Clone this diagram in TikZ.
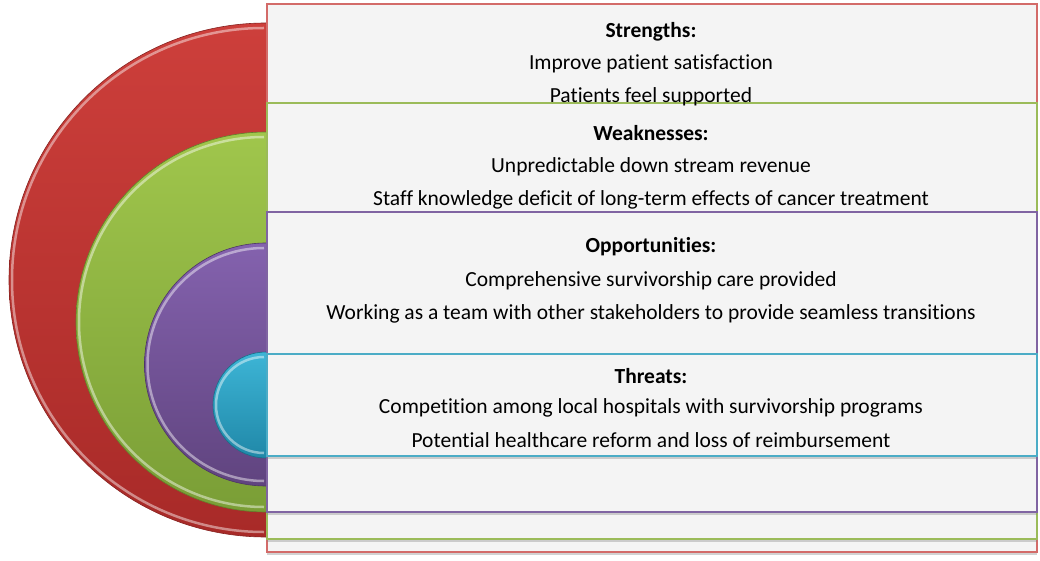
\documentclass[tikz,border=0pt]{standalone}
\usepackage{fontspec}
\setmainfont{Carlito}[Ligatures=NoCommon]
\usetikzlibrary{shadows}
\definecolor{redb}{HTML}{D36B69}
\definecolor{greenb}{HTML}{9BBB59}
\definecolor{purpleb}{HTML}{8064A2}
\definecolor{cyanb}{HTML}{4BACC6}
\definecolor{boxfill}{HTML}{F4F4F4}
\definecolor{redt}{HTML}{CD3F3B}\definecolor{redd}{HTML}{A82A28}
\definecolor{greent}{HTML}{A0C64C}\definecolor{greend}{HTML}{7A9E36}
\definecolor{purplet}{HTML}{8462AE}\definecolor{purpled}{HTML}{60447F}
\definecolor{cyant}{HTML}{3DB5D6}\definecolor{cyand}{HTML}{2088A8}
\tikzset{
  box/.style={rectangle, fill=boxfill, line width=2pt, anchor=south west, inner sep=0pt,
    minimum width=770pt, drop shadow={shadow xshift=0pt, shadow yshift=-3pt, opacity=0.35}},
  txt/.style={font=\fontsize{21.5}{24}\selectfont, inner sep=0pt, anchor=center},
  ttl/.style={txt, font=\fontsize{21.5}{24}\selectfont\bfseries},
  rim/.style={white, opacity=0.45, line width=2.5pt},
}
\newcommand{\halfdisc}[5]{% cx cy r top bottom
  \shade[top color=#4, bottom color=#5] (#1,#2+#3) arc[start angle=90, end angle=270, radius=#3] -- cycle;
  \draw[rim] (#1-2,#2+#3-5) arc[start angle=90, end angle=270, radius=#3-5];
  \draw[#5!80!black, line width=0.6pt] (#1,#2+#3) arc[start angle=90, end angle=270, radius=#3];
}
\begin{document}
\begin{tikzpicture}[x=1pt,y=1pt]
\useasboundingbox[fill=white] (0,0) rectangle (1040,560);
% red layer
\halfdisc{266}{280}{257}{redt}{redd}
\node[box, draw=redb, minimum height=548pt] (sbox) at (266,7) {};
% green layer
\halfdisc{266}{238}{190}{greent}{greend}
\node[box, draw=greenb, minimum height=436pt] (wbox) at (266,20) {};
% purple layer
\halfdisc{266}{195.5}{121.5}{purplet}{purpled}
\node[box, draw=purpleb, minimum height=300pt] (obox) at (266,47) {};
% cyan layer
\halfdisc{266}{155}{53}{cyant}{cyand}
\node[box, draw=cyanb, minimum height=102pt] (tbox) at (266,103) {};
% texts
\node[ttl] (s0) at (651,528) {Strengths:};
\node[txt] (s1) at (651,496) {Improve patient satisfaction};
\node[txt] (s2) at (651,463) {Patients feel supported};
\node[ttl] (w0) at (651,427) {Weaknesses:};
\node[txt] (w1) at (651,393) {Unpredictable down stream revenue};
\node[txt] (w2) at (651,360) {Staff knowledge deficit of long-term effects of cancer treatment};
\node[ttl] (o0) at (651,313) {Opportunities:};
\node[txt] (o1) at (651,279) {Comprehensive survivorship care provided};
\node[txt] (o2) at (651,246) {Working as a team with other stakeholders to provide seamless transitions};
\node[ttl] (t0) at (651,184) {Threats:};
\node[txt] (t1) at (651,152) {Competition among local hospitals with survivorship programs};
\node[txt] (t2) at (651,120) {Potential healthcare reform and loss of reimbursement};
\end{tikzpicture}
\end{document}
